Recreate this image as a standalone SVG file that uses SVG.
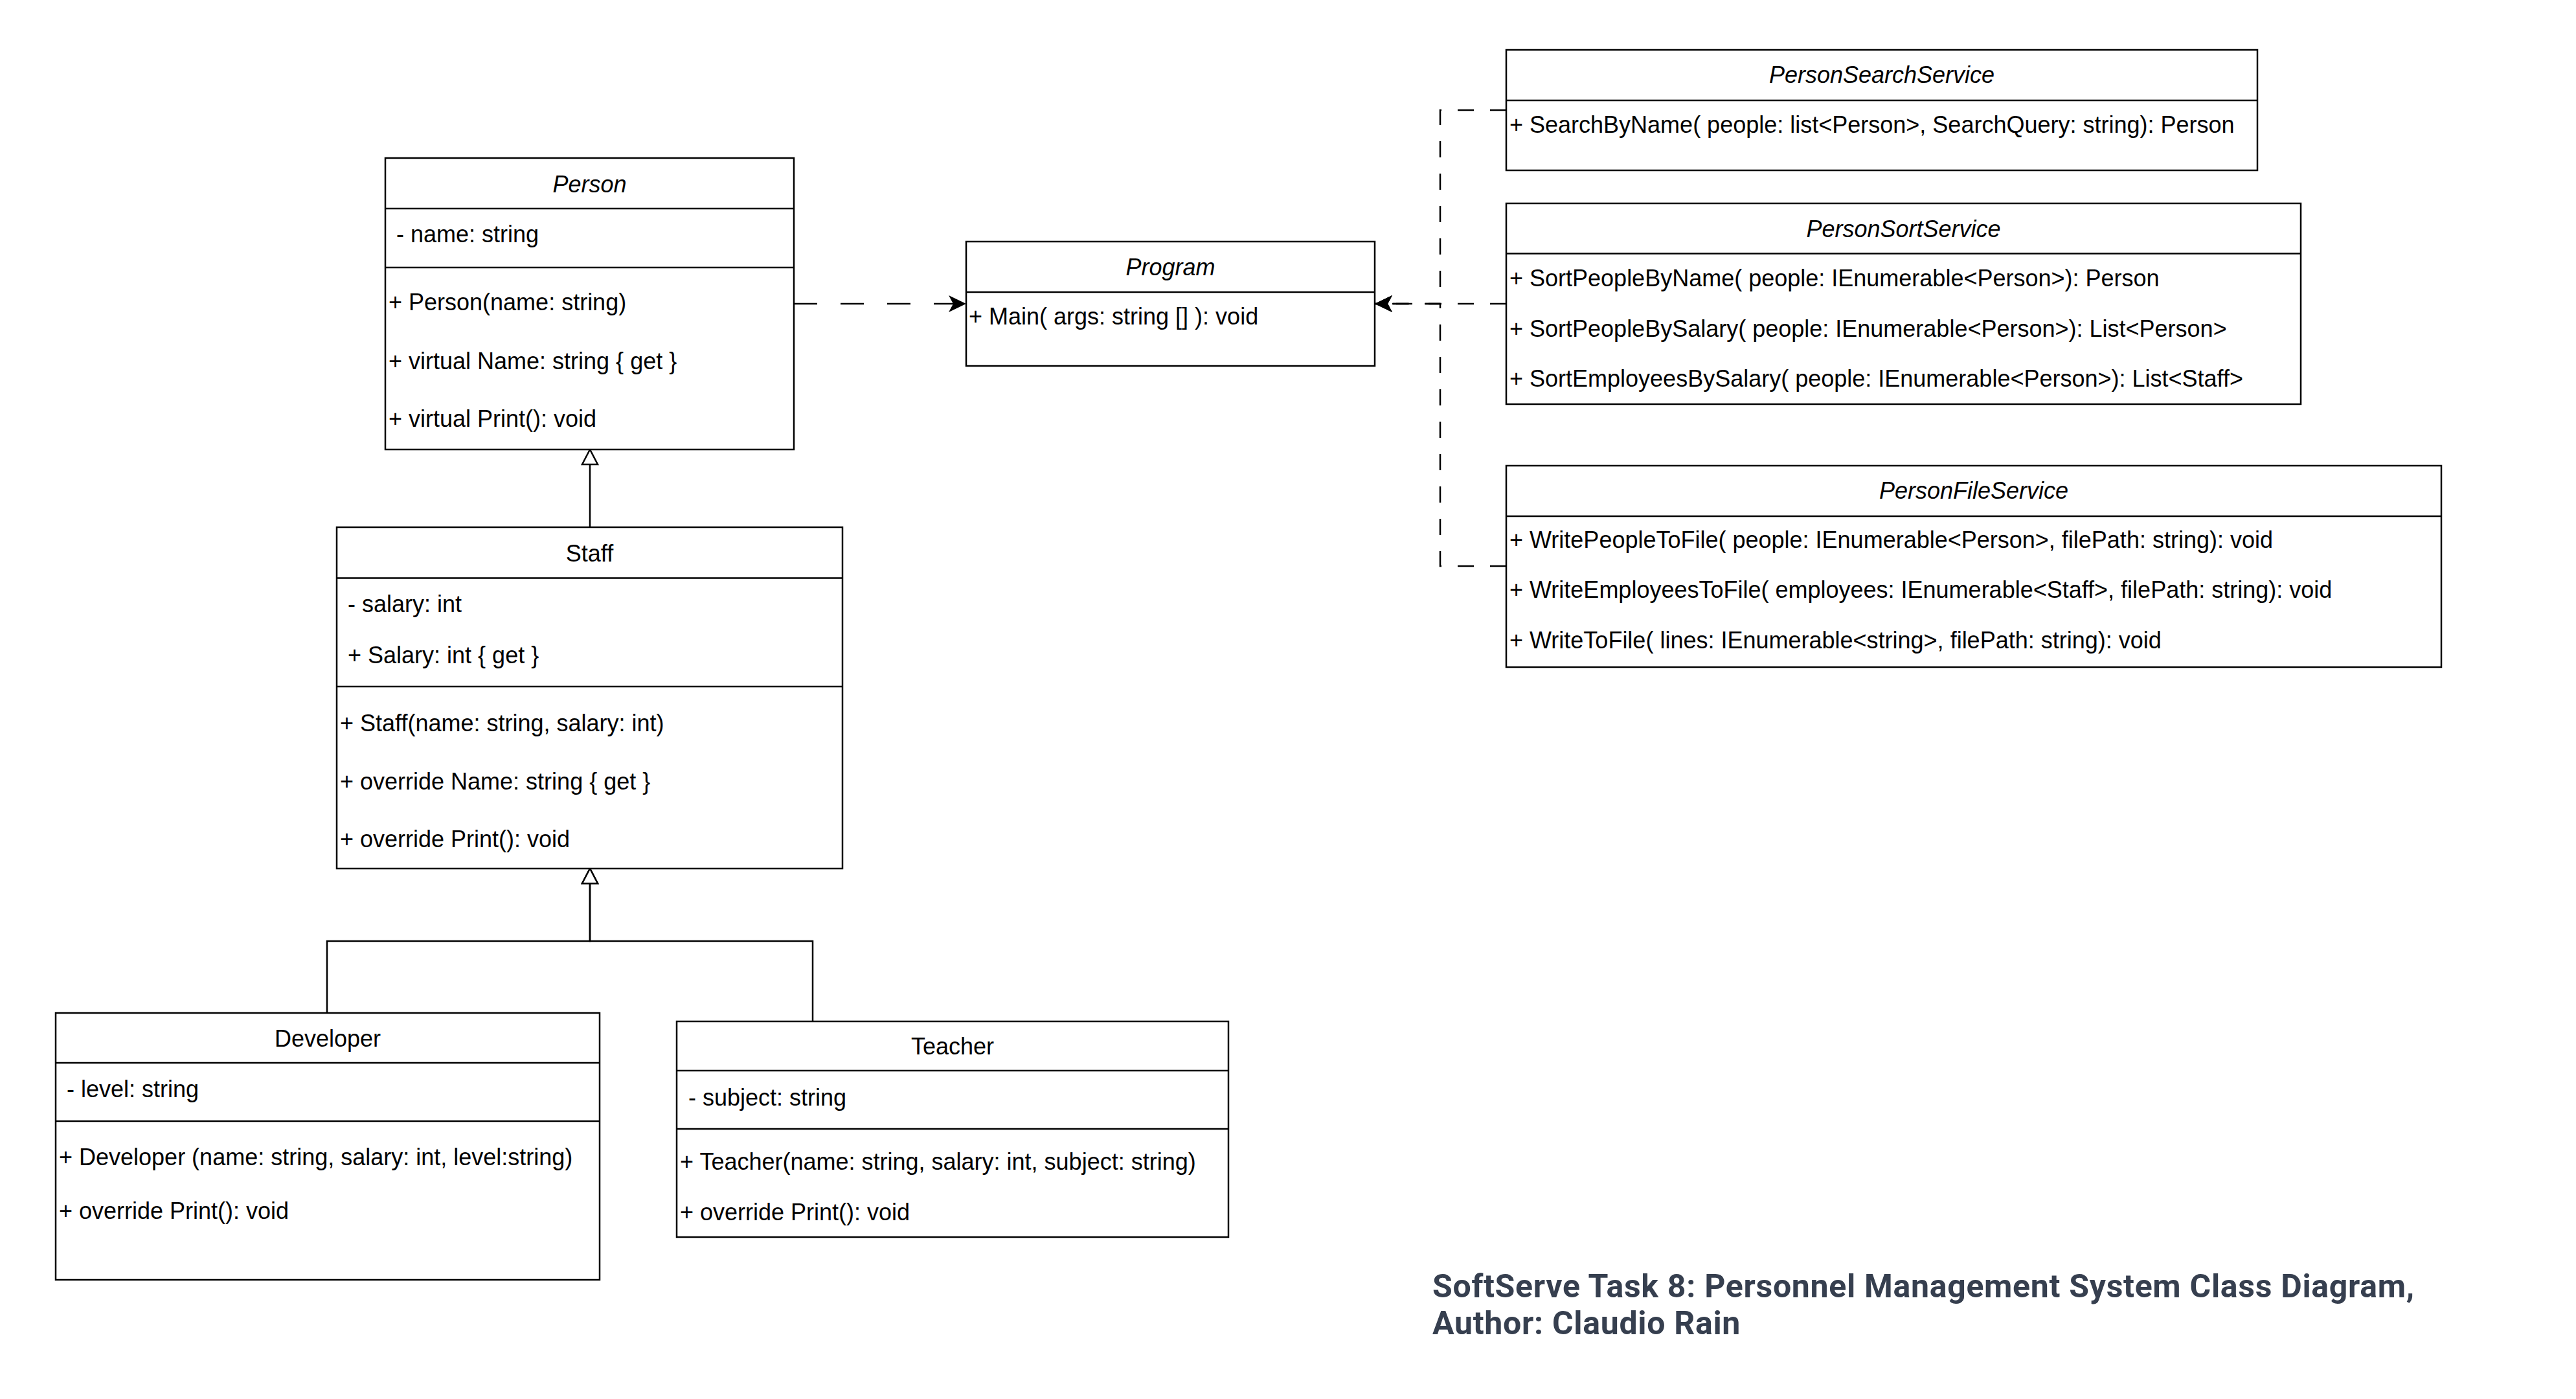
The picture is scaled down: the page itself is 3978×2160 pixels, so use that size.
<svg xmlns="http://www.w3.org/2000/svg" width="3978" height="2160" viewBox="0 0 3978 2160">
<style>
.box{fill:#ffffff;stroke:#000000;stroke-width:2.5}
.div{stroke:#000000;stroke-width:2.5;fill:none}
.t{font-family:"Liberation Sans",Arial,Helvetica,sans-serif;font-size:36px;fill:#000000}
.c{text-anchor:middle}
.i{font-style:italic}
.dep{fill:none;stroke:#000000;stroke-width:2.5}
.d1{stroke-dasharray:36 36}
.d2{stroke-dasharray:25 25}
.inh{fill:none;stroke:#000000;stroke-width:2.5}
.title{font-family:Roboto,"Liberation Sans",Arial,sans-serif;font-weight:700;font-size:50px;letter-spacing:0.7px;fill:#363f4f}
</style>
<defs>
<marker id="classic" markerUnits="userSpaceOnUse" viewBox="0 0 27 26" refX="27" refY="13" markerWidth="27" markerHeight="26" orient="auto">
<path d="M27,13 L0,0 L7,13 L0,26 Z" fill="#000000"/>
</marker>
<marker id="hollow" markerUnits="userSpaceOnUse" viewBox="-3 -3 29 30" refX="23" refY="12" markerWidth="29" markerHeight="30" orient="auto" overflow="visible">
<path d="M23,12 L0,0 L0,24 Z" fill="#ffffff" stroke="#000000" stroke-width="2.5" stroke-linejoin="miter"/>
</marker>
</defs>
<rect width="3978" height="2160" fill="#ffffff"/>

<g id="connectors">
<path class="inh" d="M911,814 V694" marker-end="url(#hollow)"/>
<path class="inh" d="M505,1564 V1453 H911 V1341" marker-end="url(#hollow)"/>
<path class="inh" d="M1255,1577 V1453 H911 V1341" marker-end="url(#hollow)"/>
<path class="dep d1" d="M1226,469 H1492" marker-end="url(#classic)"/>
<path class="dep d2" d="M2326,170 H2224 V469 H2123" marker-end="url(#classic)"/>
<path class="dep d2" d="M2326,469 H2123" marker-end="url(#classic)"/>
<path class="dep d2" d="M2326,874 H2224 V469 H2123" marker-end="url(#classic)"/>
</g>

<g id="person">
<rect class="box" x="595" y="244" width="631" height="450"/>
<path class="div" d="M595,322 H1226 M595,413 H1226"/>
<text class="t c i" x="910.5" y="297">Person</text>
<text class="t" x="612" y="374">- name: string</text>
<text class="t" x="600" y="479">+ Person(name: string)</text>
<text class="t" x="600" y="569.5">+ virtual Name: string { get }</text>
<text class="t" x="600" y="659">+ virtual Print(): void</text>
</g>

<g id="staff">
<rect class="box" x="520" y="814" width="781" height="527"/>
<path class="div" d="M520,892.5 H1301 M520,1060 H1301"/>
<text class="t c" x="910.5" y="867">Staff</text>
<text class="t" x="537" y="945">- salary: int</text>
<text class="t" x="537" y="1023.5">+ Salary: int { get }</text>
<text class="t" x="525" y="1129">+ Staff(name: string, salary: int)</text>
<text class="t" x="525" y="1219">+ override Name: string { get }</text>
<text class="t" x="525" y="1308">+ override Print(): void</text>
</g>

<g id="developer">
<rect class="box" x="86" y="1564" width="840" height="412"/>
<path class="div" d="M86,1641 H926 M86,1731 H926"/>
<text class="t c" x="506" y="1616">Developer</text>
<text class="t" x="103" y="1694">- level: string</text>
<text class="t" x="91" y="1799">+ Developer (name: string, salary: int, level:string)</text>
<text class="t" x="91" y="1882">+ override Print(): void</text>
</g>

<g id="teacher">
<rect class="box" x="1045" y="1577" width="852" height="333"/>
<path class="div" d="M1045,1653 H1897 M1045,1743 H1897"/>
<text class="t c" x="1471" y="1628">Teacher</text>
<text class="t" x="1063" y="1707">- subject: string</text>
<text class="t" x="1050" y="1806">+ Teacher(name: string, salary: int, subject: string)</text>
<text class="t" x="1050" y="1884">+ override Print(): void</text>
</g>

<g id="program">
<rect class="box" x="1492" y="373" width="631" height="192"/>
<path class="div" d="M1492,451 H2123"/>
<text class="t c i" x="1807.5" y="425">Program</text>
<text class="t" x="1496" y="501">+ Main( args: string [] ): void</text>
</g>

<g id="personSearchService">
<rect class="box" x="2326" y="77" width="1160" height="186"/>
<path class="div" d="M2326,155 H3486"/>
<text class="t c i" x="2906" y="128">PersonSearchService</text>
<text class="t" x="2331" y="204.5">+ SearchByName( people: list&lt;Person&gt;, SearchQuery: string): Person</text>
</g>

<g id="personSortService">
<rect class="box" x="2326" y="314" width="1227" height="310"/>
<path class="div" d="M2326,391.5 H3553"/>
<text class="t c i" x="2939.5" y="366">PersonSortService</text>
<text class="t" x="2331" y="442">+ SortPeopleByName( people: IEnumerable&lt;Person&gt;): Person</text>
<text class="t" x="2331" y="520">+ SortPeopleBySalary( people: IEnumerable&lt;Person&gt;): List&lt;Person&gt;</text>
<text class="t" x="2331" y="597">+ SortEmployeesBySalary( people: IEnumerable&lt;Person&gt;): List&lt;Staff&gt;</text>
</g>

<g id="personFileService">
<rect class="box" x="2326" y="719" width="1444" height="311"/>
<path class="div" d="M2326,797 H3770"/>
<text class="t c i" x="3048" y="770">PersonFileService</text>
<text class="t" x="2331" y="845.5">+ WritePeopleToFile( people: IEnumerable&lt;Person&gt;, filePath: string): void</text>
<text class="t" x="2331" y="923">+ WriteEmployeesToFile( employees: IEnumerable&lt;Staff&gt;, filePath: string): void</text>
<text class="t" x="2331" y="1001">+ WriteToFile( lines: IEnumerable&lt;string&gt;, filePath: string): void</text>
</g>

<g id="caption">
<text class="title" x="2212" y="2003">SoftServe Task 8: Personnel Management System Class Diagram,</text>
<text class="title" x="2212" y="2060">Author: Claudio Rain</text>
</g>
</svg>
